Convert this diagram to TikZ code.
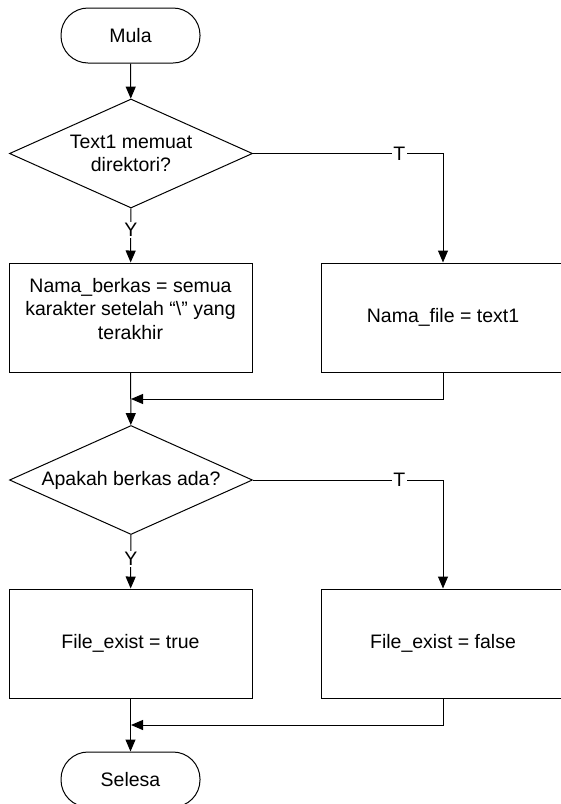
\documentclass[tikz,border=0pt]{standalone}
\usepackage{fontspec}
\setmainfont{Liberation Sans}
\usetikzlibrary{shapes.geometric,arrows.meta}
\begin{document}
\begin{tikzpicture}[x=1pt,y=-1pt,
  every node/.style={font=\fontsize{19.5}{23.5}\selectfont},
  term/.style={draw,line width=1pt,rectangle,rounded corners=27pt,minimum width=139pt,minimum height=55pt,inner sep=0pt},
  proc/.style={draw,line width=1pt,rectangle,minimum width=243pt,minimum height=109pt,inner sep=0pt},
  dec/.style={draw,line width=1pt,diamond,aspect=2.23,minimum width=243pt,minimum height=109pt,inner sep=0pt,align=center},
  txt/.style={align=center,inner sep=0pt},
  lbl/.style={fill=white,inner sep=1.5pt},
  arr/.style={line width=1pt,-{Triangle[length=12pt,width=10pt]}},
  ln/.style={line width=1pt}]
\useasboundingbox (0,0) rectangle (561,804);
\node[term] (mula) at (130.5,35.5) {Mula};
\node[dec] (d1) at (131,153.5) {Text1 memuat\\direktori?};
\node[proc] (b1) at (130.5,317.5) {};
\node[txt] (t1) at (130.5,309) {Nama\_berkas = semua\\karakter setelah “\textbackslash” yang\\terakhir};
\node[proc] (b2) at (443,317.5) {Nama\_file = text1};
\node[dec] (d2) at (131,480) {Apakah berkas ada?};
\node[proc] (b3) at (130.5,643.5) {File\_exist = true};
\node[proc] (b4) at (443,643.5) {File\_exist = false};
\node[term] (sel) at (130.5,779.5) {Selesa};
\coordinate (m1) at (131,399);
\coordinate (m2) at (131,725);
\draw[arr] (mula) -- (d1);
\draw[arr] (d1) -- node[lbl,pos=0.4] {Y} (b1);
\draw[arr] (d1.east) -| node[lbl,pos=0.385] {T} (b2.north);
\draw[arr] (b2.south) |- (m1);
\draw[arr] (b1) -- (d2);
\draw[arr] (d2) -- node[lbl,pos=0.45] {Y} (b3);
\draw[arr] (d2.east) -| node[lbl,pos=0.385] {T} (b4.north);
\draw[arr] (b4.south) |- (m2);
\draw[arr] (b3) -- (sel);
\end{tikzpicture}
\end{document}
